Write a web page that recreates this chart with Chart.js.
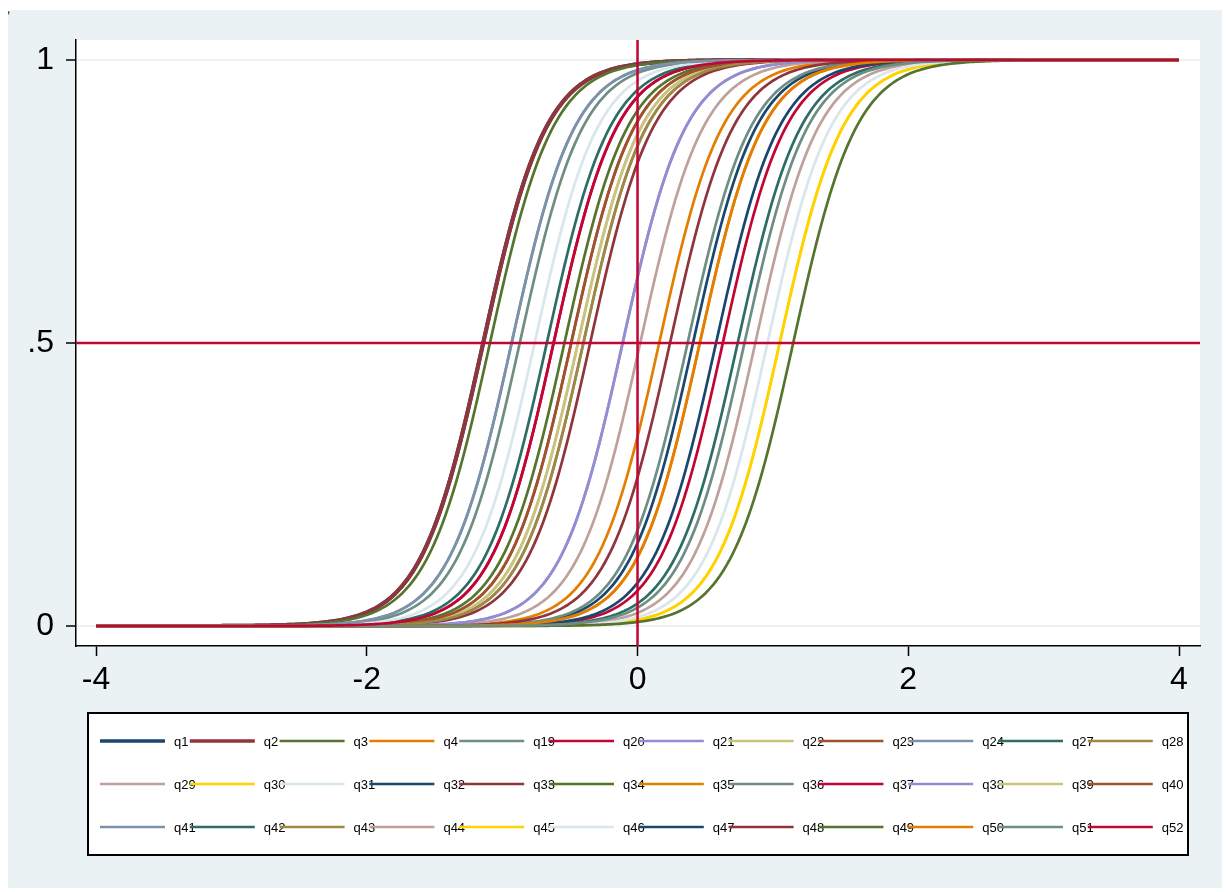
<!DOCTYPE html>
<html lang="en">
<head>
<meta charset="UTF-8">
<title>Item characteristic curves</title>
<script src="https://cdn.jsdelivr.net/npm/chart.js"></script>
<style>
body { margin: 0; background: #fff; }
#wrap { width: 1228px; height: 892px; }
</style>
</head>
<body>
<div id="wrap"><canvas id="icc" width="1228" height="892"></canvas></div>
<script>
// items, in legend order
const items = ['q1','q2','q3','q4','q19','q20','q21','q22','q23','q24','q27','q28',
               'q29','q30','q31','q32','q33','q34','q35','q36','q37','q38','q39','q40',
               'q41','q42','q43','q44','q45','q46','q47','q48','q49','q50','q51','q52'];
// item difficulty (theta where the curve crosses .5)
const difficulty = [-1.14,-1.14,-1.09, 0.16,-0.87,-0.62,-0.11,-0.44,-0.49,-0.93,-0.67,-0.40,
                     0.02, 1.05,-0.76, 0.41,-0.35,-0.54, 0.46, 0.37, 0.63,-0.11,-0.44,-0.49,
                    -0.93, 0.74,-0.40, 0.87, 1.05, 0.96, 0.58, 0.24, 1.15, 0.46, 0.79,-0.62];
const discrimination = 4.3;
const xTicks = [-4, -2, 0, 2, 4];
const yTicks = [0, 0.5, 1];
const yTickLabels = ['0', '.5', '1'];
const refX = 0, refY = 0.5;

// stata s2color pens
const pens = ['#1a476f','#90353b','#55752f','#e37e00','#6e8e84','#c10534','#938dd2','#cac27e',
              '#a0522d','#7b92a8','#2d6d66','#9c8847','#bfa19c','#ffd200','#d9e6eb'];
const refColor = '#c10534';
const bg = '#eaf2f3';
const tickFont = { family: '"Liberation Sans Narrow", "Liberation Sans", sans-serif', size: 32 };

// theta grid for drawing the curves
const theta = [];
for (let t = -4; t <= 4.0001; t += 0.02) theta.push(+t.toFixed(2));

function icc(b) {
    return theta.map(t => ({ x: t, y: 1 / (1 + Math.exp(-discrimination * (t - b))) }));
}

const datasets = items.map((name, i) => ({
    label: name,
    data: icc(difficulty[i]),
    borderColor: pens[i % pens.length],
    borderWidth: i < 2 ? 4 : 2.7,
    pointRadius: 0,
    showLine: true,
    tension: 0,
    order: items.length - i   // later items on top, like stata
}));

const framePlugin = {
    id: 'frame',
    beforeDraw(chart) {
        const ctx = chart.ctx, a = chart.chartArea;
        ctx.save();
        ctx.fillStyle = '#fff';
        ctx.fillRect(0, 0, chart.width, chart.height);
        ctx.fillStyle = bg;
        ctx.fillRect(8, 10, 1214, 878);
        ctx.fillStyle = '#fff';
        ctx.fillRect(a.left, a.top, a.right - a.left, a.bottom - a.top);
        ctx.fillStyle = '#000';
        ctx.font = '12px "Liberation Sans"';
        ctx.textBaseline = 'alphabetic';
        ctx.fillText(',', 7, 13);
        ctx.restore();
    },
    afterDatasetsDraw(chart) {
        const ctx = chart.ctx, a = chart.chartArea;
        const xs = chart.scales.x, ys = chart.scales.y;
        const px = xs.getPixelForValue(refX), py = ys.getPixelForValue(refY);
        ctx.save();
        ctx.strokeStyle = refColor;
        ctx.lineWidth = 2.5;
        ctx.beginPath();
        ctx.moveTo(a.left, py); ctx.lineTo(a.right, py);
        ctx.moveTo(px, a.top); ctx.lineTo(px, a.bottom);
        ctx.stroke();
        ctx.restore();
    },
    afterDraw(chart) {
        // stata style legend: 3 rows x 12 columns
        const ctx = chart.ctx;
        const bx = 88, by = 713, bw = 1100, bh = 142;
        ctx.save();
        ctx.fillStyle = '#fff';
        ctx.fillRect(bx, by, bw, bh);
        ctx.strokeStyle = '#000';
        ctx.lineWidth = 2;
        ctx.strokeRect(bx, by, bw, bh);
        ctx.font = '13px "Liberation Sans"';
        ctx.textBaseline = 'middle';
        ctx.fillStyle = '#000';
        chart.data.datasets.forEach((ds, i) => {
            const col = i % 12, row = Math.floor(i / 12);
            const x0 = 90 + col * 89.8;
            const y = 741 + row * 43;
            ctx.strokeStyle = ds.borderColor;
            ctx.lineWidth = i < 2 ? 3.4 : 2.4;
            ctx.beginPath();
            ctx.moveTo(x0 + 10, y); ctx.lineTo(x0 + 75, y);
            ctx.stroke();
            ctx.fillText(ds.label, x0 + 84, y + 1);
        });
        ctx.restore();
    }
};

new Chart(document.getElementById('icc'), {
    type: 'scatter',
    data: { datasets: datasets },
    options: {
        responsive: false,
        animation: false,
        devicePixelRatio: 1,
        layout: { padding: { left: 0, top: 40, right: 28, bottom: 186 } },
        plugins: { legend: { display: false }, tooltip: { enabled: false } },
        scales: {
            x: {
                type: 'linear',
                min: -4.148, max: 4.155,
                afterBuildTicks: s => { s.ticks = xTicks.map(v => ({ value: v })); },
                afterFit: s => { s.height = 60; },
                ticks: { color: '#000', font: tickFont, padding: 5, maxRotation: 0 },
                grid: { drawOnChartArea: false, tickColor: '#000', tickLength: 10, tickWidth: 1.5 },
                border: { color: '#000', width: 1.5 }
            },
            y: {
                type: 'linear',
                min: -0.0353, max: 1.0353,
                afterBuildTicks: s => { s.ticks = yTicks.map(v => ({ value: v })); },
                afterFit: s => { s.width = 76; },
                ticks: {
                    color: '#000', font: tickFont, padding: 12,
                    callback: v => yTickLabels[yTicks.indexOf(v)]
                },
                grid: { color: bg, lineWidth: 2, tickColor: '#000', tickLength: 10, tickWidth: 1.5 },
                border: { color: '#000', width: 1.5 }
            }
        }
    },
    plugins: [framePlugin]
});
</script>
</body>
</html>
